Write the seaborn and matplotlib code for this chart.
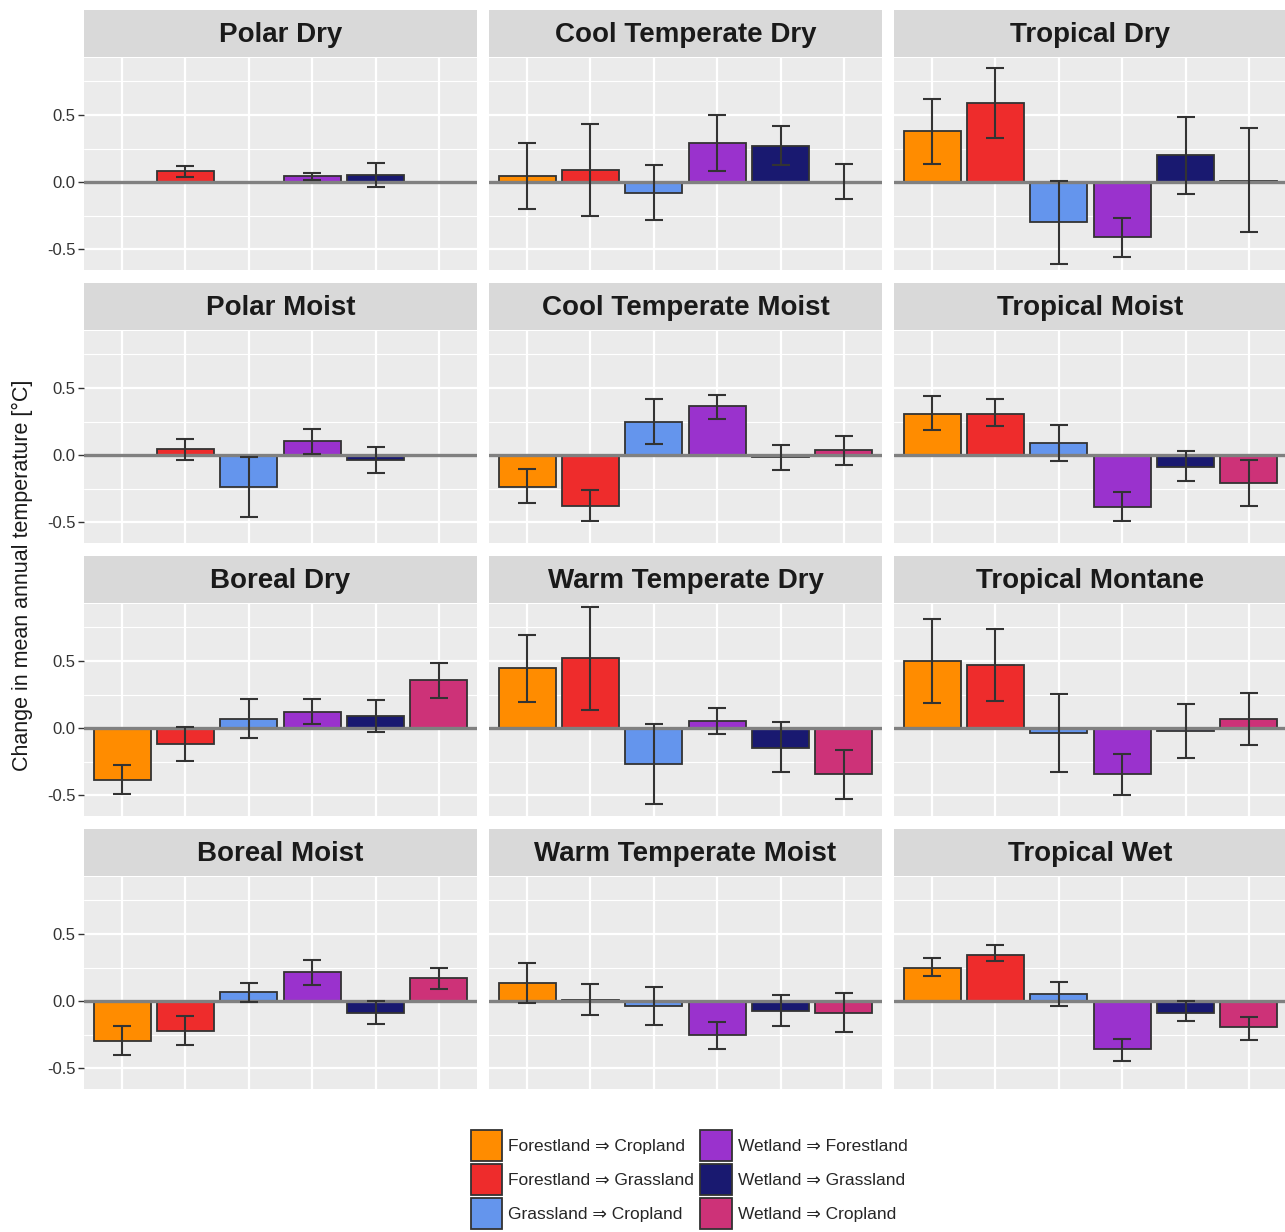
import numpy as np
import pandas as pd
import matplotlib
matplotlib.use("Agg")
import matplotlib.pyplot as plt
from matplotlib.patches import Patch
import seaborn as sns

nan = np.nan

categories = ["Forestland ⇒ Cropland", "Forestland ⇒ Grassland", "Grassland ⇒ Cropland",
              "Wetland ⇒ Forestland", "Wetland ⇒ Grassland", "Wetland ⇒ Cropland"]
colors = ["#FF8C00", "#EE2C2C", "#6495ED", "#9A32CD", "#191970", "#CD3278"]

regions = ["Polar Dry", "Cool Temperate Dry", "Tropical Dry",
           "Polar Moist", "Cool Temperate Moist", "Tropical Moist",
           "Boreal Dry", "Warm Temperate Dry", "Tropical Montane",
           "Boreal Moist", "Warm Temperate Moist", "Tropical Wet"]

means = [
    [nan, 0.08, nan, 0.045, 0.05, nan],
    [0.045, 0.09, -0.08, 0.29, 0.27, 0.0],
    [0.38, 0.59, -0.30, -0.41, 0.20, 0.01],
    [nan, 0.045, -0.24, 0.105, -0.035, nan],
    [-0.235, -0.38, 0.25, 0.365, -0.015, 0.04],
    [0.31, 0.31, 0.09, -0.385, -0.085, -0.205],
    [-0.385, -0.115, 0.07, 0.12, 0.09, 0.355],
    [0.445, 0.52, -0.27, 0.055, -0.145, -0.345],
    [0.50, 0.47, -0.035, -0.345, -0.02, 0.07],
    [-0.30, -0.22, 0.065, 0.215, -0.09, 0.17],
    [0.135, 0.005, -0.04, -0.255, -0.07, -0.085],
    [0.245, 0.345, 0.05, -0.355, -0.09, -0.195],
]
err_low = [
    [nan, 0.04, nan, 0.015, -0.035, nan],
    [-0.20, -0.25, -0.28, 0.08, 0.13, -0.125],
    [0.137, 0.33, -0.61, -0.555, -0.087, -0.37],
    [nan, -0.034, -0.46, 0.01, -0.13, nan],
    [-0.36, -0.49, 0.08, 0.27, -0.11, -0.073],
    [0.19, 0.215, -0.044, -0.49, -0.19, -0.378],
    [-0.488, -0.246, -0.074, 0.027, -0.03, 0.222],
    [0.195, 0.133, -0.564, -0.042, -0.33, -0.527],
    [0.19, 0.20, -0.325, -0.50, -0.222, -0.128],
    [-0.405, -0.324, -0.005, 0.117, -0.173, 0.09],
    [-0.017, -0.105, -0.18, -0.354, -0.188, -0.229],
    [0.19, 0.30, -0.04, -0.45, -0.15, -0.29],
]
err_high = [
    [nan, 0.12, nan, 0.067, 0.14, nan],
    [0.29, 0.43, 0.13, 0.50, 0.42, 0.137],
    [0.617, 0.85, 0.007, -0.27, 0.485, 0.40],
    [nan, 0.12, -0.012, 0.198, 0.059, nan],
    [-0.10, -0.263, 0.42, 0.45, 0.078, 0.146],
    [0.44, 0.415, 0.224, -0.278, 0.03, -0.034],
    [-0.278, 0.012, 0.217, 0.214, 0.209, 0.483],
    [0.692, 0.904, 0.027, 0.148, 0.042, -0.16],
    [0.81, 0.736, 0.251, -0.19, 0.177, 0.264],
    [-0.185, -0.11, 0.132, 0.307, -0.002, 0.246],
    [0.285, 0.129, 0.105, -0.159, 0.046, 0.063],
    [0.32, 0.42, 0.14, -0.28, 0.0, -0.12],
]

rows = []
for r, reg in enumerate(regions):
    for c, cat in enumerate(categories):
        rows.append({"region": reg, "cat": cat, "mean": means[r][c],
                     "lo": err_low[r][c], "hi": err_high[r][c]})
df = pd.DataFrame(rows)

sns.set_theme(style="darkgrid")
plt.rcParams["font.family"] = ["Liberation Sans", "DejaVu Sans"]
plt.rcParams["axes.unicode_minus"] = False

W, H = 1285, 1232
fig = plt.figure(figsize=(W / 100, H / 100), dpi=100)
fig.patch.set_facecolor("white")

col_left = [84, 489, 894]
panel_w = 393
strip_top = [10, 283, 556, 829]
strip_h = 47
panel_h = 212

palette = dict(zip(categories, colors))

for i, reg in enumerate(regions):
    r, c = divmod(i, 3)
    l = col_left[c]
    st = strip_top[r]
    pt = st + strip_h + 1
    ax = fig.add_axes([l / W, 1 - (pt + panel_h) / H, panel_w / W, panel_h / H])
    sax = fig.add_axes([l / W, 1 - (st + strip_h) / H, panel_w / W, strip_h / H])
    sax.set_facecolor("#D9D9D9")
    sax.set_xticks([]); sax.set_yticks([])
    for s in sax.spines.values():
        s.set_visible(False)
    sax.grid(False)
    sax.text(0.5, 0.46, reg, ha="center", va="center", fontsize=20,
             fontweight="bold", color="#1A1A1A", transform=sax.transAxes)

    sub = df[df["region"] == reg]
    ax.set_facecolor("#EBEBEB")
    sns.barplot(data=sub, x="cat", y="mean", hue="cat", order=categories,
                hue_order=categories, palette=palette, saturation=1, errorbar=None,
                width=0.9, edgecolor="#333333", linewidth=1.3, legend=False, ax=ax,
                zorder=2)
    ax.axhline(0, color="#808080", lw=2.4, zorder=3)
    pos = np.arange(len(categories))
    lo = sub["lo"].to_numpy(); hi = sub["hi"].to_numpy()
    ax.errorbar(pos, (lo + hi) / 2, yerr=(hi - lo) / 2, fmt="none",
                ecolor="#333333", elinewidth=1.5, capsize=6.8, capthick=1.5, zorder=4)

    ax.set_xlim(-0.6, 5.6)
    ax.set_ylim(-0.655, 0.925)
    ax.set_xticks(pos)
    ax.set_xticklabels([])
    ax.set_yticks([-0.5, 0.0, 0.5])
    ax.set_yticks([-0.25, 0.25, 0.75], minor=True)
    ax.grid(which="major", color="white", lw=1.6)
    ax.grid(which="minor", axis="y", color="white", lw=0.8)
    ax.set_axisbelow(True)
    for s in ax.spines.values():
        s.set_visible(False)
    ax.set_xlabel(""); ax.set_ylabel("")
    ax.tick_params(axis="x", length=0)
    ax.tick_params(which="minor", length=0)
    if c == 0:
        ax.set_yticklabels(["-0.5", "0.0", "0.5"])
        ax.tick_params(axis="y", which="major", length=4, width=1.0, color="#333333",
                       labelsize=12, labelcolor="#333333", pad=2, left=True)
    else:
        ax.set_yticklabels([])
        ax.tick_params(axis="y", which="major", length=0)

fig.text(22 / W, 1 - 575 / H, "Change in mean annual temperature [°C]", rotation=90,
         ha="center", va="center", fontsize=15.5, color="#1A1A1A")

handles = [Patch(facecolor=col, edgecolor="#333333", linewidth=1.3) for col in colors]
fig.legend(handles, categories, ncol=2, loc="upper left",
           bbox_to_anchor=(471 / W, 1 - 1130 / H), frameon=False, fontsize=12.5,
           handlelength=1.8, handleheight=2.35, handletextpad=0.35,
           columnspacing=0.35, labelspacing=0.2, borderpad=0, borderaxespad=0)

fig.savefig("out.png", dpi=100, facecolor="white")
